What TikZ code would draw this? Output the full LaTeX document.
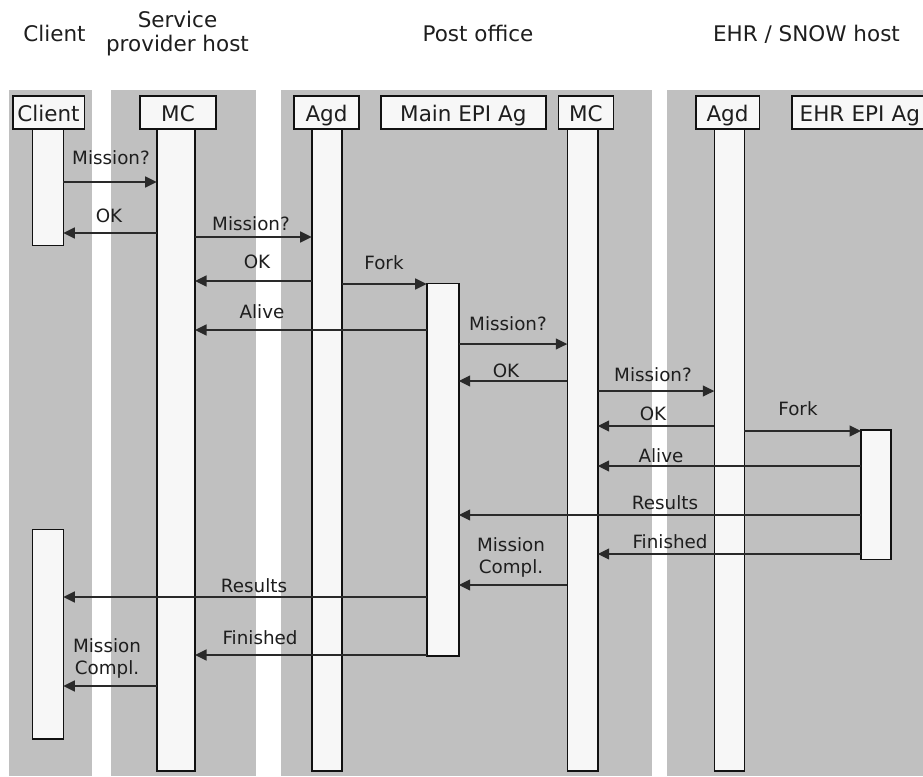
\documentclass[tikz,border=0pt]{standalone}
\usepackage{fontspec}
\setmainfont{DejaVu Sans}
\usetikzlibrary{arrows.meta}
\definecolor{panel}{HTML}{C0C0C0}
\definecolor{barfill}{HTML}{F7F7F7}
\definecolor{ink}{HTML}{111111}
\definecolor{msgline}{HTML}{2A2A2A}
\definecolor{txt}{HTML}{1E1E1E}
\begin{document}
\begin{tikzpicture}[x=1pt,y=-1pt,
  panelbox/.style={fill=panel,draw=none},
  lifebar/.style={draw=ink,fill=barfill,line width=1.6pt,inner sep=0pt,outer sep=0pt,anchor=north west},
  headbox/.style={draw=ink,fill=barfill,line width=1.6pt,inner sep=0pt,outer sep=0pt,anchor=north west,
    minimum height=33.3pt,text height=18.4pt,text depth=0pt,text=txt,font=\fontsize{21.5}{24}\selectfont},
  hosttitle/.style={inner sep=0pt,text=txt,font=\fontsize{21.5}{24}\selectfont,align=center},
  msg/.style={draw=msgline,line width=1.5pt,-{Triangle[length=11.5pt,width=11pt]}},
  msglabel/.style={inner sep=0pt,anchor=base,text=txt,font=\fontsize{18.3}{21.5}\selectfont,align=center}
]
\clip (0,0) rectangle (923,776);
\fill[white] (0,0) rectangle (923,776);
% host panels
\fill[panelbox] (9.3,90) rectangle (92.3,776);
\fill[panelbox] (111,90) rectangle (256,776);
\fill[panelbox] (281,90) rectangle (651.7,776);
\fill[panelbox] (667,90) rectangle (923,776);
% host titles
\node[hosttitle,anchor=base] (hClient) at (54.5,41.7) {Client};
\node[hosttitle] (hSP) at (177.5,34) {Service\\provider host};
\node[hosttitle,anchor=base] (hPO) at (478,41.7) {Post office};
\node[hosttitle,anchor=base] (hEHR) at (806.5,41.7) {EHR / SNOW host};
% lifelines / activation bars
\node[lifebar,minimum width=31pt,minimum height=116.3pt] (cl) at (32.3,129) {};
\node[lifebar,minimum width=31pt,minimum height=209.4pt] (cl2) at (32.3,529.3) {};
\node[lifebar,minimum width=38.3pt,minimum height=641.7pt] (mc1) at (156.7,129) {};
\node[lifebar,minimum width=30pt,minimum height=641.7pt] (agd1) at (311.7,129) {};
\node[lifebar,minimum width=32pt,minimum height=372.4pt] (epi) at (426.7,283.3) {};
\node[lifebar,minimum width=30.4pt,minimum height=641.7pt] (mc2) at (567.3,129) {};
\node[lifebar,minimum width=30pt,minimum height=641.7pt] (agd2) at (714.3,129) {};
\node[lifebar,minimum width=30pt,minimum height=129.3pt] (ehr) at (861,430) {};
% header boxes
\node[headbox,minimum width=71.6pt] (bClient) at (12.7,95.7) {Client};
\node[headbox,minimum width=76pt] (bMC1) at (140,95.7) {MC};
\node[headbox,minimum width=65pt] (bAgd1) at (294,95.7) {Agd};
\node[headbox,minimum width=164.7pt] (bEPI) at (381,95.7) {Main EPI Ag};
\node[headbox,minimum width=55pt] (bMC2) at (558.3,95.7) {MC};
\node[headbox,minimum width=63.6pt] (bAgd2) at (695.7,95.7) {Agd};
\node[headbox,minimum width=170pt,align=left,text width=160pt,inner xsep=8pt] (bEHR) at (791.7,95.7) {EHR EPI Ag};
% messages
\draw[msg] (cl.east |- 0,182) -- (mc1.west |- 0,182);
\draw[msg] (mc1.west |- 0,233) -- (cl.east |- 0,233);
\draw[msg] (mc1.east |- 0,237) -- (agd1.west |- 0,237);
\draw[msg] (agd1.west |- 0,281) -- (mc1.east |- 0,281);
\draw[msg] (agd1.east |- 0,284) -- (epi.west |- 0,284);
\draw[msg] (epi.west |- 0,330) -- (mc1.east |- 0,330);
\draw[msg] (epi.east |- 0,344) -- (mc2.west |- 0,344);
\draw[msg] (mc2.west |- 0,381) -- (epi.east |- 0,381);
\draw[msg] (mc2.east |- 0,391) -- (agd2.west |- 0,391);
\draw[msg] (agd2.west |- 0,426) -- (mc2.east |- 0,426);
\draw[msg] (agd2.east |- 0,431) -- (ehr.west |- 0,431);
\draw[msg] (ehr.west |- 0,466) -- (mc2.east |- 0,466);
\draw[msg] (ehr.west |- 0,515) -- (epi.east |- 0,515);
\draw[msg] (ehr.west |- 0,554) -- (mc2.east |- 0,554);
\draw[msg] (mc2.west |- 0,585) -- (epi.east |- 0,585);
\draw[msg] (epi.west |- 0,597) -- (cl2.east |- 0,597);
\draw[msg] (epi.west |- 0,655) -- (mc1.east |- 0,655);
\draw[msg] (mc1.west |- 0,686) -- (cl2.east |- 0,686);
% message labels
\node[msglabel] (l1) at (111,164) {Mission?};
\node[msglabel] (l2) at (109,222) {OK};
\node[msglabel] (l3) at (251,230) {Mission?};
\node[msglabel] (l4) at (257,268) {OK};
\node[msglabel] (l5) at (384,269) {Fork};
\node[msglabel] (l6) at (262,318) {Alive};
\node[msglabel] (l7) at (508,330) {Mission?};
\node[msglabel] (l8) at (506,377) {OK};
\node[msglabel] (l9) at (653,381) {Mission?};
\node[msglabel] (l10) at (653,420) {OK};
\node[msglabel] (l11) at (798,415) {Fork};
\node[msglabel] (l12) at (661,462) {Alive};
\node[msglabel] (l13) at (665,509) {Results};
\node[msglabel] (l14) at (670,548) {Finished};
\node[msglabel,anchor=center] (l15) at (511,557.6) {Mission\\Compl.};
\node[msglabel] (l16) at (254,592) {Results};
\node[msglabel] (l17) at (260,644) {Finished};
\node[msglabel,anchor=center] (l18) at (107,658.6) {Mission\\Compl.};
\end{tikzpicture}
\end{document}
